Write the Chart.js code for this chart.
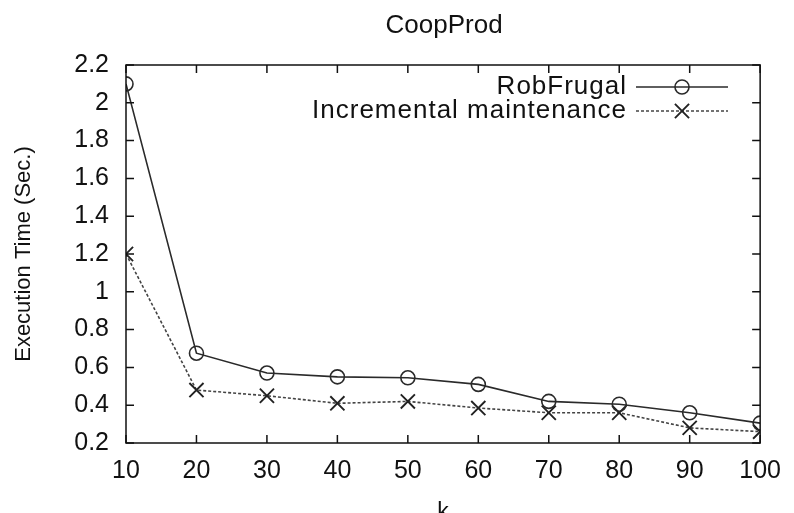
<!DOCTYPE html>
<html lang="en">
<head>
    <meta charset="UTF-8">
    <title>CoopProd</title>
    <script src="https://cdn.jsdelivr.net/npm/chart.js"></script>
    <style>
        html, body { margin: 0; padding: 0; background: #fff; }
        #wrap { width: 794px; height: 513px; }
    </style>
</head>
<body>
    <div id="wrap">
        <canvas id="myChart" width="794" height="513"></canvas>
    </div>
    <script>
        // data
        const titleText = 'CoopProd';
        const kValues = [10, 20, 30, 40, 50, 60, 70, 80, 90, 100];
        const robFrugal = [2.10, 0.675, 0.57, 0.55, 0.545, 0.51, 0.42, 0.405, 0.36, 0.305];
        const incremental = [1.20, 0.48, 0.45, 0.41, 0.42, 0.385, 0.36, 0.36, 0.28, 0.26];
        const yTickLabels = ['0.2', '0.4', '0.6', '0.8', '1', '1.2', '1.4', '1.6', '1.8', '2', '2.2'];
        const xTickLabels = ['10', '20', '30', '40', '50', '60', '70', '80', '90', '100'];

        const FONT = 'Liberation Sans, Arial, Helvetica, sans-serif';

        const toPoints = vals => vals.map((v, i) => ({ x: kValues[i], y: v }));

        // gnuplot-like frame: box, inward ticks on all sides, title and legend
        const framePlugin = {
            id: 'frame',
            afterDraw(chart) {
                const ctx = chart.ctx;
                const a = chart.chartArea;
                const xs = chart.scales.x, ys = chart.scales.y;
                const tl = 8;
                ctx.save();
                ctx.strokeStyle = '#111';
                ctx.lineWidth = 1.5;
                ctx.strokeRect(a.left, a.top, a.right - a.left, a.bottom - a.top);
                ctx.beginPath();
                xs.ticks.forEach(t => {
                    const px = xs.getPixelForValue(t.value);
                    ctx.moveTo(px, a.bottom); ctx.lineTo(px, a.bottom - tl);
                    ctx.moveTo(px, a.top); ctx.lineTo(px, a.top + tl);
                });
                ys.ticks.forEach(t => {
                    const py = ys.getPixelForValue(t.value);
                    ctx.moveTo(a.left, py); ctx.lineTo(a.left + tl, py);
                    ctx.moveTo(a.right, py); ctx.lineTo(a.right - tl, py);
                });
                ctx.stroke();

                // title
                ctx.fillStyle = '#111';
                ctx.font = '26px ' + FONT;
                ctx.textAlign = 'center';
                ctx.textBaseline = 'middle';
                ctx.fillText(titleText, (a.left + a.right) / 2 + 1, 26);

                // legend, text left of the sample like gnuplot
                ctx.font = '26px ' + FONT;
                ctx.letterSpacing = '1px';
                ctx.textAlign = 'right';
                const textRight = 627;
                const lineL = 636, lineR = 728, mid = 682;
                chart.data.datasets.forEach((ds, i) => {
                    const y = 87 + i * 24;
                    ctx.fillStyle = '#111';
                    ctx.fillText(ds.label, textRight, y);
                    ctx.save();
                    ctx.strokeStyle = ds.borderColor;
                    ctx.lineWidth = ds.borderWidth;
                    ctx.setLineDash(ds.borderDash || []);
                    ctx.beginPath();
                    ctx.moveTo(lineL, y); ctx.lineTo(lineR, y);
                    ctx.stroke();
                    ctx.restore();
                    ctx.save();
                    ctx.fillStyle = 'rgba(0,0,0,0)';
                    ctx.strokeStyle = ds.pointBorderColor;
                    ctx.lineWidth = ds.pointBorderWidth;
                    Chart.helpers.drawPoint(ctx, {
                        pointStyle: ds.pointStyle,
                        radius: ds.pointRadius,
                        borderWidth: ds.pointBorderWidth,
                        rotation: 0
                    }, mid, y);
                    ctx.restore();
                });
                ctx.restore();
            }
        };

        const ctx = document.getElementById('myChart').getContext('2d');
        const myChart = new Chart(ctx, {
            type: 'line',
            data: {
                datasets: [
                    {
                        label: 'RobFrugal',
                        data: toPoints(robFrugal),
                        borderColor: '#2a2a2a',
                        borderWidth: 1.6,
                        pointStyle: 'circle',
                        pointRadius: 7,
                        pointBorderWidth: 1.6,
                        pointBorderColor: '#2a2a2a',
                        pointBackgroundColor: 'rgba(0,0,0,0)',
                        fill: false,
                    },
                    {
                        label: 'Incremental maintenance',
                        data: toPoints(incremental),
                        borderColor: '#444',
                        borderWidth: 1.6,
                        borderDash: [3, 2],
                        pointStyle: 'crossRot',
                        pointRadius: 10,
                        pointBorderWidth: 1.9,
                        pointBorderColor: '#222',
                        pointBackgroundColor: 'rgba(0,0,0,0)',
                        fill: false,
                    },
                ],
            },
            options: {
                responsive: false,
                animation: false,
                layout: { padding: { left: 0, right: 31, top: 65, bottom: 0 } },
                plugins: {
                    legend: { display: false },
                    title: { display: false },
                    tooltip: { enabled: false },
                },
                scales: {
                    x: {
                        type: 'linear',
                        min: 10,
                        max: 100,
                        border: { display: false },
                        grid: { display: false, drawTicks: false },
                        ticks: {
                            stepSize: 10,
                            padding: 13,
                            color: '#111',
                            font: { family: FONT, size: 25 },
                            callback: (v) => xTickLabels[kValues.indexOf(v)] ?? '',
                        },
                        title: {
                            display: true,
                            text: 'k',
                            color: '#111',
                            font: { family: FONT, size: 23 },
                            padding: { top: 0, bottom: -13 },
                        },
                        afterFit: (s) => { s.height = 70; },
                    },
                    y: {
                        min: 0.2,
                        max: 2.2,
                        border: { display: false },
                        grid: { display: false, drawTicks: false },
                        ticks: {
                            stepSize: 0.2,
                            padding: 17,
                            color: '#111',
                            font: { family: FONT, size: 25 },
                            callback: (v) => yTickLabels[Math.round((v - 0.2) / 0.2)] ?? '',
                        },
                        title: {
                            display: true,
                            text: 'Execution Time (Sec.)',
                            color: '#111',
                            font: { family: FONT, size: 22 },
                            padding: { top: 11, bottom: 0 },
                        },
                        afterFit: (s) => { s.width = 126; },
                    },
                },
            },
            plugins: [framePlugin],
        });
    </script>
</body>
</html>
